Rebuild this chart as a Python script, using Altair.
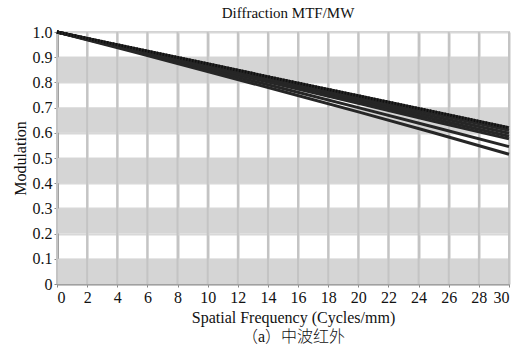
import altair as alt
import pandas as pd

freq = [0, 5, 10, 15, 20, 25, 30]
line_a = [1.0, 0.937, 0.874, 0.810, 0.747, 0.684, 0.620]
line_b = [1.0, 0.935, 0.870, 0.805, 0.740, 0.675, 0.610]
line_c = [1.0, 0.933, 0.866, 0.800, 0.733, 0.666, 0.598]
line_d = [1.0, 0.931, 0.862, 0.794, 0.725, 0.656, 0.586]
line_e = [1.0, 0.929, 0.858, 0.788, 0.717, 0.646, 0.576]
line_f = [1.0, 0.926, 0.851, 0.776, 0.700, 0.623, 0.545]
line_g = [1.0, 0.922, 0.843, 0.764, 0.683, 0.600, 0.515]

band_lo = [0.0, 0.2, 0.4, 0.6, 0.8]
band_hi = [0.1, 0.3, 0.5, 0.7, 0.9]

x_ticks = list(range(0, 31, 2))
y_ticks = [0, 0.1, 0.2, 0.3, 0.4, 0.5, 0.6, 0.7, 0.8, 0.9, 1.0]

series = {"A": line_a, "B": line_b, "C": line_c, "D": line_d,
          "E": line_e, "F": line_f, "G": line_g}
rows = []
for name, vals in series.items():
    for f, v in zip(freq, vals):
        rows.append({"series": name, "freq": f, "mtf": v})
df = pd.DataFrame(rows)
bands = pd.DataFrame({"lo": band_lo, "hi": band_hi})

FONT = "Liberation Serif, Times New Roman, Noto Sans CJK SC"

xscale = alt.Scale(domain=[0, 30], nice=False)
yscale = alt.Scale(domain=[0, 1], nice=False)

xaxis = alt.Axis(values=x_ticks, labelExpr="datum.value", grid=True,
                 title=["Spatial Frequency (Cycles/mm)", "（a）中波红外"],
                 titleLineHeight=19, titleX=236, titleFontWeight=300)
yaxis = alt.Axis(values=y_ticks,
                 labelExpr="datum.value == 0 ? '0' : format(datum.value, '.1f')",
                 grid=True, title="Modulation")

band_layer = alt.Chart(bands).mark_rect(color="#d5d5d5").encode(
    y=alt.Y("lo:Q", scale=yscale, axis=yaxis),
    y2="hi:Q",
    x=alt.value(0),
    x2=alt.value(452),
)

grid_layer = alt.Chart(pd.DataFrame({"g": x_ticks})).mark_rule(
    color="#c4c4c4", strokeWidth=2).encode(
    x=alt.X("g:Q", scale=xscale, axis=xaxis),
)

lines = alt.Chart(df).mark_line(color="#262626", strokeWidth=3).encode(
    x=alt.X("freq:Q", scale=xscale, axis=xaxis),
    y=alt.Y("mtf:Q", scale=yscale, axis=yaxis),
    detail="series:N",
)

top = alt.Chart(df[df.series == "A"]).mark_line(
    color="#111111", strokeWidth=3, strokeDash=[1.5, 1.5]).encode(
    x=alt.X("freq:Q", scale=xscale, axis=xaxis),
    y=alt.Y("mtf:Q", scale=yscale, axis=yaxis),
)

chart = alt.layer(band_layer, grid_layer, lines, top).properties(
    width=452, height=252,
    title=alt.TitleParams("Diffraction MTF/MW", font=FONT, fontSize=15,
                          fontWeight="normal", color="#111", offset=3, dx=5),
    autosize=alt.AutoSizeParams(type="none"),
    padding={"left": 57, "top": 32, "right": 10, "bottom": 62},
).configure_view(stroke="#cfcfcf", strokeWidth=2).configure_axis(
    labelFont=FONT, titleFont=FONT, labelFontSize=16, titleFontSize=16,
    labelColor="#111", titleColor="#111",
    gridColor="#d8d8d8", gridWidth=2, tickColor="#888", tickSize=3,
    domainColor="#a0a0a0", labelPadding=2, labelOverlap=False,
).configure_axisY(domainWidth=3, titlePadding=4, titleFontWeight="normal").configure_axisX(
    domainWidth=2, titlePadding=4, gridColor="#c4c4c4")

chart.save("out.html", embed_options={"renderer": "svg", "actions": False})
